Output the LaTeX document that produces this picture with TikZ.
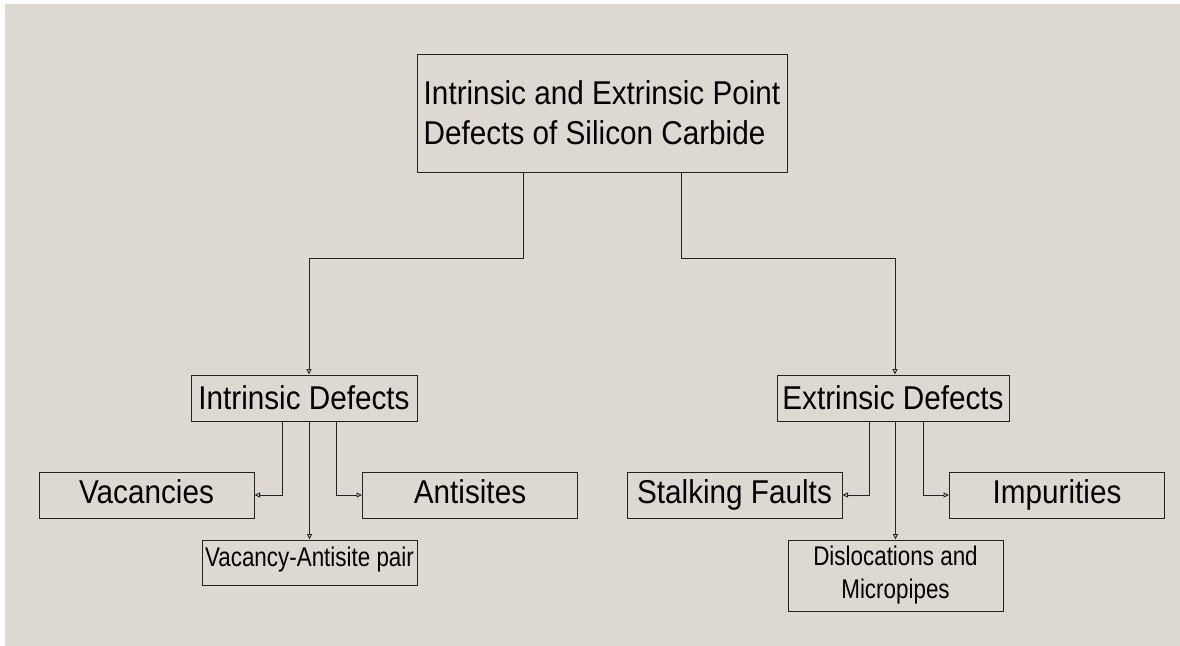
\documentclass[tikz,border=0pt]{standalone}
\usepackage{fontspec}
\setmainfont[FakeStretch=0.9]{Liberation Sans}
\newfontfamily\narrowfont[FakeStretch=0.83]{Liberation Sans}
\usetikzlibrary{positioning, arrows.meta}
\definecolor{paper}{RGB}{222,216,210}
\definecolor{edge}{RGB}{35,35,35}

\begin{document}
\begin{tikzpicture}[x=1pt, y=-1pt, >={Triangle[open, length=5.5pt, width=5pt]},
	box/.style={draw=edge, line width=1pt, inner sep=0pt, minimum height=46pt, font=\fontsize{33}{40}\selectfont},
	leafbox/.style={box, minimum width=215pt, text height=24pt, text depth=7pt},
	smallbox/.style={box, minimum width=215pt, align=center, font=\narrowfont\fontsize{27}{33}\selectfont},
	link/.style={draw=edge, line width=0.9pt}]
	
	% background
	\useasboundingbox (0,0) rectangle (1180,645);
	\fill[white] (-5,-5) rectangle (1190,655);
	\fill[paper] (5,4) rectangle (1190,655);
	
	\node[box, minimum width=370pt, minimum height=118pt, align=left] (root) at (602,113) {Intrinsic and Extrinsic Point\\Defects of Silicon Carbide};
	
	\node[box, minimum width=226pt] (intr) at (304,398) {Intrinsic Defects};
	\node[box, minimum width=232pt] (extr) at (893,398) {Extrinsic Defects};
	
	\node[leafbox] (vac) at (146.5,495) {Vacancies};
	\node[leafbox] (anti) at (470,495) {Antisites};
	\node[smallbox, minimum height=45pt, text height=20pt, text depth=12pt] (pair) at (309.5,562.5) {Vacancy-Antisite pair};
	
	\node[leafbox] (stalk) at (734.5,495) {Stalking Faults};
	\node[leafbox] (impur) at (1057,495) {Impurities};
	\node[smallbox, minimum height=71pt] (disloc) at (895.5,575.5) {Dislocations and\\Micropipes};
	
	\draw[link, ->] ([xshift=-79pt]root.south) -- ++(0,86) -| ([xshift=5pt]intr.north);
	\draw[link, ->] ([xshift=79pt]root.south) -- ++(0,86) -| ([xshift=2pt]extr.north);
	
	\draw[link, ->] ([xshift=-22pt]intr.south) |- (vac.east);
	\draw[link, ->] (intr.south -| pair.north) -- (pair.north);
	\draw[link, ->] ([xshift=32pt]intr.south) |- (anti.west);
	
	\draw[link, ->] ([xshift=-24pt]extr.south) |- (stalk.east);
	\draw[link, ->] (extr.south -| disloc.north) -- (disloc.north);
	\draw[link, ->] ([xshift=30pt]extr.south) |- (impur.west);
\end{tikzpicture}
\end{document}
